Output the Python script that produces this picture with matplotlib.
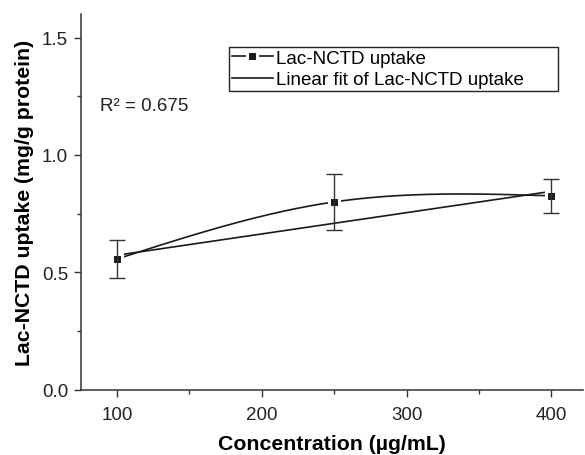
import numpy as np
import matplotlib
matplotlib.use("Agg")
import matplotlib.pyplot as plt
from matplotlib.lines import Line2D

plt.rcParams['font.family'] = ['Liberation Sans', 'DejaVu Sans']

# data
conc = [100, 250, 400]
uptake = [0.557, 0.800, 0.826]
uptake_err = [0.080, 0.121, 0.072]
fit_x = [100, 400]
fit_y = [0.573, 0.845]
r2_text = "R² = 0.675"


def natural_spline(x, y, n=200):
    # plain natural cubic spline, only used to draw the smooth connecting line
    x = np.asarray(x, float)
    y = np.asarray(y, float)
    k = len(x)
    h = np.diff(x)
    A = np.zeros((k, k))
    b = np.zeros(k)
    A[0, 0] = A[-1, -1] = 1
    for i in range(1, k - 1):
        A[i, i - 1] = h[i - 1]
        A[i, i] = 2 * (h[i - 1] + h[i])
        A[i, i + 1] = h[i]
        b[i] = 6 * ((y[i + 1] - y[i]) / h[i] - (y[i] - y[i - 1]) / h[i - 1])
    M = np.linalg.solve(A, b)
    xs = np.linspace(x[0], x[-1], n)
    ys = np.empty_like(xs)
    for j, xv in enumerate(xs):
        i = min(np.searchsorted(x, xv, side='right') - 1, k - 2)
        t = xv - x[i]
        a = (M[i + 1] - M[i]) / (6 * h[i])
        s = (y[i + 1] - y[i]) / h[i] - h[i] * (2 * M[i] + M[i + 1]) / 6
        ys[j] = y[i] + s * t + M[i] / 2 * t ** 2 + a * t ** 3
    return xs, ys


fig = plt.figure(figsize=(5.85, 4.56), dpi=100)
ax = fig.add_axes([0.138, 0.143, 0.859, 0.824])

sx, sy = natural_spline(conc, uptake)
ax.plot(sx, sy, color='#1a1a1a', lw=1.2, zorder=1)
ax.plot(fit_x, fit_y, color='#1a1a1a', lw=1.2, zorder=1)
ax.plot(conc, uptake, ls='none', marker='s', ms=7, mfc='#1a1a1a',
        mec='white', mew=2.2, zorder=2)
ax.errorbar(conc, uptake, yerr=uptake_err, fmt='none', ecolor='#333333',
            elinewidth=1, capsize=5.5, capthick=1, zorder=3)

ax.set_xlim(75, 422)
ax.set_ylim(0, 1.6)
ax.set_xticks([100, 200, 300, 400])
ax.set_xticks([150, 250, 350], minor=True)
ax.set_yticks([0.0, 0.5, 1.0, 1.5])
ax.set_yticks([0.25, 0.75, 1.25], minor=True)
ax.yaxis.set_major_formatter(matplotlib.ticker.FormatStrFormatter('%.1f'))

for side in ['top', 'right']:
    ax.spines[side].set_visible(False)
for side in ['left', 'bottom']:
    ax.spines[side].set_color('#333333')
    ax.spines[side].set_linewidth(1.1)
ax.tick_params(which='major', direction='out', length=5, width=1,
               color='#333333', labelsize=13.5, labelcolor='#222222')
ax.tick_params(which='minor', direction='out', length=3, width=1,
               color='#333333')
ax.tick_params(axis='x', pad=7)
ax.tick_params(axis='y', pad=4)

ax.set_xlabel('Concentration (µg/mL)', fontsize=15.3, fontweight='bold', labelpad=7.5)
ax.set_ylabel('Lac-NCTD uptake (mg/g protein)', fontsize=15.3, fontweight='bold', labelpad=6)

ax.text(88.5, 1.21, r2_text, fontsize=13.5, va='center', ha='left', color='#222222')

handles = [
    Line2D([], [], color='#1a1a1a', lw=1.2, marker='s', ms=7,
           mfc='#1a1a1a', mec='white', mew=2.2),
    Line2D([], [], color='#1a1a1a', lw=1.2),
]
leg = ax.legend(handles, ['Lac-NCTD uptake', 'Linear fit of Lac-NCTD uptake      '],
                loc='upper left', bbox_to_anchor=(0.295, 0.913),
                borderaxespad=0, fontsize=13.5, fancybox=False, framealpha=1,
                edgecolor='#222222', handlelength=2.2, handletextpad=0.15,
                borderpad=0.15, labelspacing=0.25)
leg.get_frame().set_linewidth(1)

fig.savefig('out.png', dpi=100)
